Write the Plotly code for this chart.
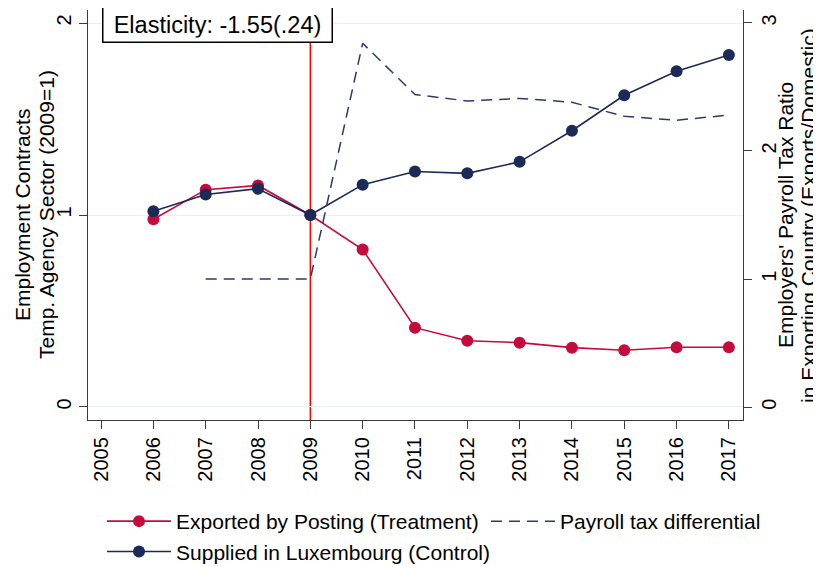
import plotly.graph_objects as go

years = [2006, 2007, 2008, 2009, 2010, 2011, 2012, 2013, 2014, 2015, 2016, 2017]
treatment = [0.978, 1.132, 1.154, 1.0, 0.82, 0.413, 0.345, 0.335, 0.309, 0.295, 0.311, 0.311]
control = [1.019, 1.107, 1.137, 1.0, 1.158, 1.227, 1.217, 1.277, 1.439, 1.624, 1.749, 1.834]
tax_years = [2007, 2008, 2009, 2010, 2011, 2012, 2013, 2014, 2015, 2016, 2017]
tax_ratio = [1.0, 1.0, 1.0, 2.84, 2.44, 2.39, 2.41, 2.38, 2.27, 2.24, 2.28]
x_ticks = list(range(2005, 2018))
left_ticks = [0, 1, 2]
right_ticks = [0, 1, 2, 3]
reform_year = 2009
annotation_text = "Elasticity: -1.55(.24)"
left_title = ["Employment Contracts", "Temp. Agency Sector (2009=1)"]
right_title = ["Employers' Payroll Tax Ratio", "in Exporting Country (Exports/Domestic)"]

RED = "#c50b3b"
NAVY = "#1c2a58"
FONT = "Liberation Sans, Arial, sans-serif"

fig = go.Figure()
fig.add_trace(go.Scatter(
    x=years, y=treatment, mode="lines+markers", name="Exported by Posting (Treatment)",
    line=dict(color=RED, width=1.6), marker=dict(color=RED, size=12), legend="legend"))
fig.add_trace(go.Scatter(
    x=years, y=control, mode="lines+markers", name="Supplied in Luxembourg (Control)",
    line=dict(color=NAVY, width=1.6), marker=dict(color=NAVY, size=12), legend="legend"))
fig.add_trace(go.Scatter(
    x=tax_years, y=tax_ratio, mode="lines", name="Payroll tax differential", yaxis="y2",
    line=dict(color="#2b3a68", width=1.5, dash="11px,7px"), legend="legend2"))

fig.add_shape(type="line", xref="x", yref="paper", x0=reform_year, x1=reform_year,
              y0=0, y1=1, line=dict(color="#ff0000", width=1.5), layer="between")

fig.add_annotation(text=annotation_text, xref="paper", yref="paper", x=0.197, y=0.964,
                   xanchor="center", yanchor="middle", showarrow=False, width=220,
                   font=dict(size=23.5, color="black", family=FONT),
                   bgcolor="white", bordercolor="black", borderwidth=1.5, borderpad=4)

# axis titles as rotated text lines
for text, xpos in zip(left_title, [-0.1008, -0.0641]):
    fig.add_annotation(text=text, xref="paper", yref="paper", x=xpos, y=0.5,
                       xanchor="center", yanchor="middle", textangle=-90, showarrow=False,
                       font=dict(size=21, color="black", family=FONT))
for text, xpos in zip(right_title, [1.0641, 1.0992]):
    fig.add_annotation(text=text, xref="paper", yref="paper", x=xpos, y=0.5,
                       xanchor="center", yanchor="middle", textangle=-90, showarrow=False,
                       font=dict(size=21, color="black", family=FONT))

axis_common = dict(showline=True, linecolor="#3a3a3a", linewidth=1.3, ticks="outside",
                   ticklen=8, tickcolor="#3a3a3a", tickfont=dict(size=20, color="black", family=FONT),
                   zeroline=False, automargin=False)

legend_common = dict(orientation="v", xanchor="left", y=-0.1975, yanchor="top",
                     font=dict(size=21, family=FONT), itemwidth=64, tracegroupgap=0)

fig.update_layout(
    width=813, height=580,
    margin=dict(l=80, r=78, t=2, b=168),
    plot_bgcolor="white", paper_bgcolor="white",
    font=dict(family=FONT, color="black", size=20),
    xaxis=dict(range=[2004.75, 2017.27], tickvals=x_ticks, tickangle=-90, showgrid=False,
               **axis_common),
    yaxis=dict(range=[-0.068, 2.068], tickvals=left_ticks, tickangle=-90, showgrid=True,
               gridcolor="#e8eef1", gridwidth=1.3, **axis_common),
    yaxis2=dict(range=[-0.1, 3.1], tickvals=right_ticks, tickangle=-90, overlaying="y",
                side="right", showgrid=False, **axis_common),
    legend=dict(x=0.0214, **legend_common),
    legend2=dict(x=0.6076, **legend_common),
    showlegend=True,
)

fig.write_html("out.html")
